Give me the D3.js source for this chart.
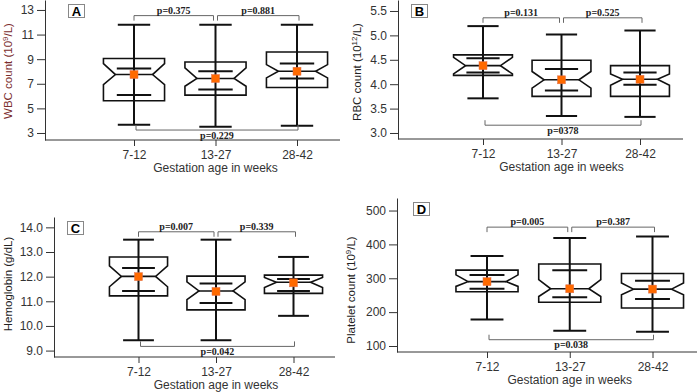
<!DOCTYPE html>
<head>
  <meta charset="utf-8">
  <title>Blood counts by gestation age</title>
  <script src="https://d3js.org/d3.v7.min.js"></script>
  <style>
    body { margin: 0; background: #fff; }
    text { font-family: "Liberation Sans", Arial, sans-serif; }
  </style>
</head>
<body>
  <div id="chart"></div>
  <script>
    // groups on the x axis
    var groups = ['7-12', '13-27', '28-42'];

    // box stats per group: [lower whisker, Q1, notch low, median, notch high, Q3, upper whisker]
    var wbcBox = [
      [3.67, 5.62, 6.94, 7.75, 8.64, 9.05, 11.8],
      [3.51, 6.08, 6.80, 7.43, 8.29, 8.77, 11.8],
      [3.59, 6.70, 7.48, 8.02, 8.56, 9.58, 11.8]
    ];
    var wbcMean = [7.75, 7.43, 8.02];
    var wbcInner = [[6.08, 8.24], [6.54, 8.02], [7.43, 8.64]];
    var wbcTicks = [3, 5, 7, 9, 11, 13];
    var wbcP = ['p=0.375', 'p=0.881', 'p=0.229'];

    var rbcBox = [
      [3.71, 4.18, 4.21, 4.38, 4.55, 4.60, 5.19],
      [3.35, 3.75, 3.92, 4.09, 4.26, 4.49, 5.02],
      [3.33, 3.75, 3.98, 4.10, 4.21, 4.38, 5.10]
    ];
    var rbcMean = [4.38, 4.09, 4.10];
    var rbcInner = [[4.24, 4.53], [3.87, 4.31], [3.99, 4.24]];
    var rbcTicks = [3.0, 3.5, 4.0, 4.5, 5.0, 5.5];
    var rbcP = ['p=0.131', 'p=0.525', 'p=0378'];

    var hbBox = [
      [9.42, 11.22, 11.59, 12.01, 12.44, 12.80, 13.50],
      [9.42, 10.65, 11.07, 11.42, 11.79, 12.02, 13.50],
      [10.41, 11.32, 11.56, 11.77, 11.97, 12.06, 12.80]
    ];
    var hbMean = [12.0, 11.4, 11.75];
    var hbInner = [[11.42, 12.35], [10.93, 11.72], [11.42, 11.90]];
    var hbTicks = [9, 10, 11, 12, 13, 14];
    var hbP = ['p=0.007', 'p=0.339', 'p=0.042'];

    var pltBox = [
      [178, 260, 276, 290, 310, 324, 366],
      [145, 229, 246, 269, 296, 342, 419],
      [142, 212, 251, 268, 286, 314, 423]
    ];
    var pltMean = [290, 269, 268];
    var pltInner = [[269, 310], [244, 324], [239, 293]];
    var pltTicks = [100, 200, 300, 400, 500];
    var pltP = ['p=0.005', 'p=0.387', 'p=0.038'];

    // layout of the four panels
    var panels = [
      { tag: 'A', box: wbcBox, mean: wbcMean, inner: wbcInner, ticks: wbcTicks, fmt: d3.format('d'), p: wbcP,
        ylab: ['WBC count (10', '9', '/L)'], ylabColor: '#7b2d2d', ylabX: 8, ylabY: 71,
        left: 45, right: 340, top: 0, bottom: 140, cx: [134, 297], domain: [2.43, 13.81],
        topBr: 12.54, botBr: 3.24, tagX: 68 },
      { tag: 'B', box: rbcBox, mean: rbcMean, inner: rbcInner, ticks: rbcTicks, fmt: d3.format('.1f'), p: rbcP,
        ylab: ['RBC count (10', '12', '/L)'], ylabColor: '#222', ylabX: 357, ylabY: 72,
        left: 398, right: 683, top: 0, bottom: 139, cx: [483, 640], domain: [2.877, 5.725],
        topBr: 5.36, botBr: 3.16, tagX: 411 },
      { tag: 'C', box: hbBox, mean: hbMean, inner: hbInner, ticks: hbTicks, fmt: d3.format('.1f'), p: hbP,
        ylab: ['Hemoglobin (g/dL)'], ylabColor: '#222', ylabX: 8, ylabY: 284,
        left: 54, right: 335, top: 217, bottom: 357, cx: [138.5, 293.5], domain: [8.74, 14.42],
        topBr: 13.82, botBr: 9.17, tagX: 67 },
      { tag: 'D', box: pltBox, mean: pltMean, inner: pltInner, ticks: pltTicks, fmt: d3.format('d'), p: pltP,
        ylab: ['Platelet count (10', '9', '/L)'], ylabColor: '#222', ylabX: 351, ylabY: 290,
        left: 397, right: 697, top: 198, bottom: 352, cx: [487, 652.5], domain: [82.3, 537],
        topBr: 451, botBr: 118.6, tagX: 413 }
    ];

    var svg = d3.select('#chart').append('svg')
      .attr('width', 700)
      .attr('height', 392);

    panels.forEach(drawPanel);

    function drawPanel(pn) {
      var g = svg.append('g');

      var x = d3.scalePoint().domain(groups).range(pn.cx);
      var y = d3.scaleLinear().domain(pn.domain).range([pn.bottom, pn.top]);
      var step = x.step();
      var bw = step * 0.75;
      var inset = 12;
      var cw = bw * 0.53;

      // y axis
      var yAxis = d3.axisLeft(y).tickValues(pn.ticks).tickFormat(pn.fmt)
        .tickSize(8).tickSizeOuter(0).tickPadding(3);
      var ya = g.append('g').attr('transform', 'translate(' + pn.left + ',0)').call(yAxis);
      ya.selectAll('text').attr('font-size', 12).attr('fill', '#333');
      ya.selectAll('line, path').attr('stroke', '#333');

      // x axis
      var xAxis = d3.axisBottom(x).tickSize(6).tickSizeOuter(0).tickPadding(4);
      var xa = g.append('g').attr('transform', 'translate(0,' + pn.bottom + ')').call(xAxis);
      xa.select('.domain').remove();
      xa.selectAll('text').attr('font-size', 12).attr('fill', '#333');
      xa.selectAll('line').attr('stroke', '#333');
      g.append('line')
        .attr('x1', pn.left).attr('x2', pn.right)
        .attr('y1', pn.bottom).attr('y2', pn.bottom)
        .attr('stroke', '#333');

      g.append('text')
        .attr('x', (pn.cx[0] + pn.cx[1]) / 2).attr('y', pn.bottom + 32)
        .attr('text-anchor', 'middle').attr('font-size', 12).attr('fill', '#333')
        .text('Gestation age in weeks');

      // y label
      var yl = g.append('text')
        .attr('transform', 'translate(' + pn.ylabX + ',' + pn.ylabY + ') rotate(-90)')
        .attr('dy', '0.35em')
        .attr('text-anchor', 'middle').attr('font-size', 11.5).attr('fill', pn.ylabColor);
      yl.append('tspan').text(pn.ylab[0]);
      if (pn.ylab.length > 1) {
        yl.append('tspan').attr('font-size', 8).attr('dy', '-0.5em').text(pn.ylab[1]);
        yl.append('tspan').attr('dy', '0.35em').text(pn.ylab[2]);
      }

      // panel tag
      g.append('rect')
        .attr('x', pn.tagX + 0.5).attr('y', pn.top + 4.5).attr('width', 16).attr('height', 13)
        .attr('fill', '#fff').attr('stroke', '#888');
      g.append('text')
        .attr('x', pn.tagX + 8.5).attr('y', pn.top + 15.5)
        .attr('text-anchor', 'middle').attr('font-size', 13).attr('font-weight', 'bold')
        .text(pn.tag);

      var items = groups.map(function (d, i) {
        return { g: d, s: pn.box[i], mean: pn.mean[i], inner: pn.inner[i] };
      });

      var box = g.selectAll('.box').data(items).enter().append('g');

      // whisker line
      box.append('line')
        .attr('x1', function (d) { return x(d.g); })
        .attr('x2', function (d) { return x(d.g); })
        .attr('y1', function (d) { return y(d.s[0]); })
        .attr('y2', function (d) { return y(d.s[6]); })
        .attr('stroke', '#111').attr('stroke-width', 2);

      // caps
      [0, 6].forEach(function (k) {
        box.append('line')
          .attr('x1', function (d) { return x(d.g) - cw / 2; })
          .attr('x2', function (d) { return x(d.g) + cw / 2; })
          .attr('y1', function (d) { return y(d.s[k]); })
          .attr('y2', function (d) { return y(d.s[k]); })
          .attr('stroke', '#111').attr('stroke-width', 2);
      });

      // notched box
      box.append('path')
        .attr('d', function (d) {
          var c = x(d.g), x0 = c - bw / 2, x1 = c + bw / 2;
          var q1 = y(d.s[1]), nl = y(d.s[2]), md = y(d.s[3]), nh = y(d.s[4]), q3 = y(d.s[5]);
          return 'M' + x0 + ',' + q3 + 'L' + x1 + ',' + q3 + 'L' + x1 + ',' + nh +
            'L' + (x1 - inset) + ',' + md + 'L' + x1 + ',' + nl + 'L' + x1 + ',' + q1 +
            'L' + x0 + ',' + q1 + 'L' + x0 + ',' + nl + 'L' + (x0 + inset) + ',' + md +
            'L' + x0 + ',' + nh + 'Z';
        })
        .attr('fill', 'none').attr('stroke', '#111').attr('stroke-width', 1.6);

      // median line
      box.append('line')
        .attr('x1', function (d) { return x(d.g) - bw / 2 + inset; })
        .attr('x2', function (d) { return x(d.g) + bw / 2 - inset; })
        .attr('y1', function (d) { return y(d.s[3]); })
        .attr('y2', function (d) { return y(d.s[3]); })
        .attr('stroke', '#111').attr('stroke-width', 1.6);

      // inner lines
      [0, 1].forEach(function (k) {
        box.append('line')
          .attr('x1', function (d) { return x(d.g) - cw / 2 - 1; })
          .attr('x2', function (d) { return x(d.g) + cw / 2 + 1; })
          .attr('y1', function (d) { return y(d.inner[k]); })
          .attr('y2', function (d) { return y(d.inner[k]); })
          .attr('stroke', '#111').attr('stroke-width', 2);
      });

      // mean marker
      box.append('rect')
        .attr('x', function (d) { return x(d.g) - 4; })
        .attr('y', function (d) { return y(d.mean) - 4; })
        .attr('width', 8).attr('height', 8)
        .attr('fill', '#ff6a00').attr('stroke', '#e07050').attr('stroke-width', 0.5);

      // significance brackets
      var c0 = x(groups[0]), c1 = x(groups[1]), c2 = x(groups[2]);
      var ty = y(pn.topBr), by = y(pn.botBr);
      var brs = [
        { a: c0, b: c1 - 2, y: ty, dir: 1, t: pn.p[0] },
        { a: c1 + 2, b: c2 + 2, y: ty, dir: 1, t: pn.p[1] },
        { a: c0 + 2, b: c2 + 1, y: by, dir: -1, t: pn.p[2] }
      ];
      brs.forEach(function (br) {
        g.append('path')
          .attr('d', 'M' + br.a + ',' + (br.y + 5 * br.dir) + 'V' + br.y + 'H' + br.b + 'V' + (br.y + 5 * br.dir))
          .attr('fill', 'none').attr('stroke', '#666').attr('stroke-width', 1);
        g.append('text')
          .attr('x', (br.a + br.b) / 2)
          .attr('y', br.dir > 0 ? br.y - 2 : br.y + 8.5)
          .attr('text-anchor', 'middle')
          .style('font-family', '"Liberation Serif", "Times New Roman", serif')
          .attr('font-size', 10).attr('font-weight', 'bold').attr('fill', '#222')
          .text(br.t);
      });
    }
  </script>
</body>
